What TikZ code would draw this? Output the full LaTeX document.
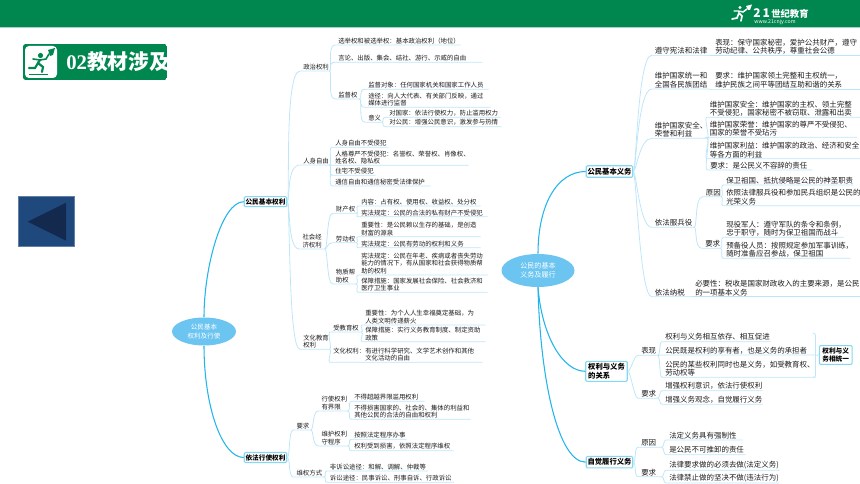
\documentclass[tikz,border=0pt]{standalone}
\usepackage{fontspec}
\setmainfont{Noto Sans CJK SC}
\newfontfamily\latinbold[BoldFont=Liberation Serif Bold]{Liberation Serif}
\usetikzlibrary{shapes.geometric}
\definecolor{bandgreen}{HTML}{00864F}
\definecolor{trunkblue}{HTML}{22B5EA}
\definecolor{ellipseblue}{HTML}{6CC5F1}
\definecolor{boxblue}{HTML}{86D8F2}
\definecolor{twigblue}{HTML}{BFE6F8}
\definecolor{textgrey}{HTML}{1C1C1C}
\definecolor{squareblue}{HTML}{1F497D}
\definecolor{darkblue}{HTML}{132A4E}
\def\twig[#1](#2)(#3:#4){\draw[#1] (#2) .. controls +(3,0) and +(-#4,0) .. (#3.south west) -- (#3.south east);}
\tikzset{
	leaf/.style={anchor=south west, inner xsep=2.25pt, inner ysep=0.6pt, align=left, text=textgrey, font=\fontsize{4.8}{5.6}\selectfont},
	rleaf/.style={leaf, font=\fontsize{5.6}{6.3}\selectfont},
	wide/.style={text width=#1*0.75pt-4.5pt},
	twig/.style={draw=twigblue, line width=0.6pt},
	trunk/.style={draw=trunkblue, line width=0.8pt},
	topic/.style={draw=boxblue, fill=white, line width=0.8pt, rounded corners=0.8pt, inner sep=0pt, align=left, font=\bfseries\fontsize{5}{6.2}\selectfont},
	rtopic/.style={topic, font=\bfseries\fontsize{5.5}{7}\selectfont},
	centre/.style={ellipse, fill=ellipseblue, text=white, inner sep=0pt, align=center, font=\fontsize{4.9}{6.4}\selectfont}
}
\begin{document}
\begin{tikzpicture}[x=0.75pt, y=-0.75pt]
	\useasboundingbox (0, 0) rectangle (860, 484);
	%%%%% HEADER %%%%%
	\fill[bandgreen] (0, 0) rectangle (860, 27);
	\fill[bandgreen!35] (0, 27) rectangle (860, 28.5);
	\draw[white, line width=1.3pt, line cap=round] (732, 19) -- (737, 18) -- (739, 13) -- (742, 16) -- (741, 21);
	\draw[white, line width=1.1pt, line cap=round] (734, 11) -- (738, 11) -- (743, 12) -- (747, 9);
	\fill[white] (740, 7.5) circle (1.6);
	\fill[white] (746, 6) -- (752, 4.5) -- (750, 10) -- (748, 10) -- cycle;
	\node[white, inner sep=0pt, anchor=west, font=\bfseries\itshape\fontsize{9}{9}\selectfont] (logoNum) at (753, 13.5) {2\,1};
	\node[white, inner sep=0pt, anchor=west, font=\bfseries\fontsize{7}{8}\selectfont] (logoName) at (771, 13.5) {世纪教育};
	\node[white, inner sep=0pt, font=\fontsize{3.9}{4}\selectfont] (logoWeb) at (775, 21.8) {www.21cnjy.com};
	%%%%% BADGE %%%%%
	\begin{scope}
		\clip[rounded corners=2] (23, 44) rectangle (167, 80);
		\fill[bandgreen] (23, 44) rectangle (167, 80);
		\fill[white, rounded corners=3] (25, 46) rectangle (57, 78);
		\fill[bandgreen] (40.5, 55.5) circle (2.6);
		\draw[bandgreen, line width=1.6pt, line cap=round] (29, 68) -- (35, 68) -- (38, 63) -- (43, 67) -- (42, 72);
		\draw[bandgreen, line width=1.6pt, line cap=round] (38, 63) -- (40, 60);
		\draw[bandgreen, line width=1.2pt, line cap=round] (33, 59) -- (40, 60) -- (46, 59) -- (49, 54);
		\fill[bandgreen] (48, 50) -- (55, 48) -- (53, 55) -- (50, 56) -- cycle;
		\draw[bandgreen, line width=0.6pt] (29, 74) -- (48, 74);
		\node[white, inner sep=0pt, anchor=west, font=\bfseries\fontsize{15.6}{16}\selectfont] (badgeText) at (66, 62) {{\latinbold\bfseries 02}教材涉及};
	\end{scope}
	%%%%% BACK BUTTON %%%%%
	\draw[fill=squareblue, draw=squareblue!70] (18.5, 196.5) rectangle (74.5, 246.5);
	\fill[darkblue] (66, 202.7) -- (27.7, 221.7) -- (66, 240.7) -- cycle;
	%%%%% CENTRES AND TOPICS %%%%%
	\node[centre, minimum width=64*0.75pt, minimum height=28*0.75pt] (rightsMap) at (204, 331.5) {公民基本\\权利及行使};
	\node[centre, minimum width=73*0.75pt, minimum height=33*0.75pt, font=\fontsize{5.3}{7}\selectfont] (dutyMap) at (538, 270.5) {公民的基本\\义务及履行};
	\node[topic, minimum width=42.5*0.75pt, minimum height=10*0.75pt] (basicRights) at (265.5, 201.7) {公民基本权利};
	\node[topic, minimum width=42.5*0.75pt, minimum height=10*0.75pt] (useRights) at (265.5, 457.5) {依法行使权利};
	\node[rtopic, minimum width=46.5*0.75pt, minimum height=11.5*0.75pt] (basicDuty) at (609.5, 171.5) {公民基本义务};
	\node[rtopic, minimum width=41.5*0.75pt, minimum height=20*0.75pt] (relation) at (606.5, 371.3) {权利与义务\\的关系};
	\node[rtopic, minimum width=46.5*0.75pt, minimum height=11.5*0.75pt] (selfDuty) at (609.5, 462.2) {自觉履行义务};
	\node[rtopic, minimum width=32.7*0.75pt, minimum height=18.6*0.75pt, font=\bfseries\fontsize{5}{6.6}\selectfont] (unityBox) at (835.7, 355) {权利与义\\务相统一};
	\draw[trunk] (rightsMap.north) .. controls +(0, -50) and +(-22, 0) .. (basicRights.west);
	\draw[trunk] (rightsMap.south) .. controls +(0, 60) and +(-22, 0) .. (useRights.west);
	\draw[trunk] (dutyMap.north) .. controls +(0, -50) and +(-28, 0) .. (basicDuty.west);
	\draw[trunk] (dutyMap.south) .. controls +(4, 50) and +(-22, 0) .. (relation.west);
	\draw[trunk] (dutyMap.south) .. controls +(2, 90) and +(-28, 0) .. (selfDuty.west);
	%%%%% BASIC RIGHTS %%%%%
	\node[leaf, wide=29] (politics) at (300, 71) {政治权利};
	\node[leaf, wide=125] (vote) at (335, 45) {选举权和被选举权：基本政治权利（地位）};
	\node[leaf, wide=147] (speech) at (335, 62.3) {言论、出版、集会、结社、游行、示威的自由};
	\node[leaf, wide=24] (watch) at (335, 99) {监督权};
	\node[leaf, wide=123] (watchWho) at (365, 89.3) {监督对象：任何国家机关和国家工作人员};
	\node[leaf, wide=125] (watchWay) at (365, 107.3) {途径：向人大代表、有关部门反映，通过\\媒体进行监督};
	\node[leaf, wide=16] (watchSense) at (365, 122.3) {意义};
	\node[leaf, wide=114] (toState) at (386, 117.3) {对国家：依法行使权力，防止滥用权力};
	\node[leaf, wide=115] (toCitizen) at (386, 126.7) {对公民：增强公民意识，激发参与热情};
	\twig[twig](basicRights.east)(politics:16)
	\twig[twig](politics.south east)(vote:8)
	\twig[twig](politics.south east)(speech:8)
	\twig[twig](politics.south east)(watch:8)
	\twig[twig](watch.south east)(watchWho:7)
	\twig[twig](watch.south east)(watchWay:7)
	\twig[twig](watch.south east)(watchSense:7)
	\twig[twig](watchSense.south east)(toState:5)
	\twig[twig](watchSense.south east)(toCitizen:5)
	
	\node[leaf, wide=29] (person) at (300, 165) {人身自由};
	\node[leaf, wide=56] (personA) at (332, 147.3) {人身自由不受侵犯};
	\node[leaf, wide=136] (personB) at (332, 165.3) {人格尊严不受侵犯：名誉权、荣誉权、肖像权、\\姓名权、隐私权};
	\node[leaf, wide=43] (personC) at (332, 175.3) {住宅不受侵犯};
	\node[leaf, wide=98] (personD) at (332, 186) {通信自由和通信秘密受法律保护};
	\twig[twig](basicRights.east)(person:14)
	\twig[twig](person.south east)(personA:4)
	\twig[twig](person.south east)(personB:4)
	\twig[twig](person.south east)(personC:4)
	\twig[twig](person.south east)(personD:4)
	
	\node[leaf, wide=25] (social) at (299.3, 249) {社会经\\济权利};
	\node[leaf, wide=23] (property) at (332.7, 213.3) {财产权};
	\node[leaf, wide=122] (propA) at (358, 206) {内容：占有权、使用权、收益权、处分权};
	\node[leaf, wide=129] (propB) at (358, 216.7) {宪法规定：公民的合法的私有财产不受侵犯};
	\node[leaf, wide=23] (labour) at (332.7, 242.7) {劳动权};
	\node[leaf, wide=122] (labourA) at (358, 236.7) {重要性：是公民赖以生存的基础，是创造\\财富的源泉};
	\node[leaf, wide=122] (labourB) at (358, 247.7) {宪法规定：公民有劳动的权利和义务};
	\node[leaf, wide=23] (relief) at (332.7, 284) {物质帮\\助权};
	\node[leaf, wide=129] (reliefA) at (358, 275) {宪法规定：公民在年老、疾病或者丧失劳动\\能力的情况下，有从国家和社会获得物质帮\\助的权利};
	\node[leaf, wide=129] (reliefB) at (358, 292.3) {保障措施：国家发展社会保险、社会救济和\\医疗卫生事业};
	\twig[twig](basicRights.east)(social:12)
	\twig[twig](social.south east)(property:6)
	\twig[twig](social.south east)(labour:6)
	\twig[twig](social.south east)(relief:6)
	\twig[twig](property.south east)(propA:3)
	\twig[twig](property.south east)(propB:3)
	\twig[twig](labour.south east)(labourA:3)
	\twig[twig](labour.south east)(labourB:3)
	\twig[twig](relief.south east)(reliefA:3)
	\twig[twig](relief.south east)(reliefB:3)
	
	\node[leaf, wide=29] (culture) at (300, 349.3) {文化教育\\权利};
	\node[leaf, wide=31] (school) at (330, 332) {受教育权};
	\node[leaf, wide=123] (schoolA) at (362, 325) {重要性：为个人人生幸福奠定基础，为\\人类文明传递薪火};
	\node[leaf, wide=123] (schoolB) at (362, 341.7) {保障措施：实行义务教育制度、制定资助\\政策};
	\node[leaf, wide=152] (cultureR) at (330, 362.3) {文化权利：有进行科学研究、文学艺术创作和其他\\\hspace*{24pt}文化活动的自由};
	\twig[twig](basicRights.east)(culture:12)
	\twig[twig](culture.south east)(school:3)
	\twig[twig](culture.south east)(cultureR:3)
	\twig[twig](school.south east)(schoolA:3)
	\twig[twig](school.south east)(schoolB:3)
	%%%%% USE OF RIGHTS %%%%%
	\node[leaf, wide=17] (demand) at (293.3, 430) {要求};
	\node[leaf, wide=30] (protect) at (293.3, 477) {维权方式};
	\node[leaf, wide=29] (limit) at (318.3, 411) {行使权利\\有界限};
	\node[leaf, wide=73] (limitA) at (351, 401.3) {不得超越界限滥用权利};
	\node[leaf, wide=119] (limitB) at (351, 419.3) {不得损害国家的、社会的、集体的利益和\\其他公民的合法的自由和权利};
	\node[leaf, wide=29] (procedure) at (318.3, 446) {维护权利\\守程序};
	\node[leaf, wide=55] (procA) at (351, 439.3) {按照法定程序办事};
	\node[leaf, wide=102] (procB) at (351, 450.7) {权利受到损害，依照法定程序维权};
	\node[leaf, wide=101] (nonSuit) at (326.7, 471) {非诉讼途径：和解、调解、仲裁等};
	\node[leaf, wide=127] (suit) at (326.7, 482.3) {诉讼途径：民事诉讼、刑事自诉、行政诉讼};
	\twig[twig](useRights.east)(demand:5)
	\twig[twig](useRights.east)(protect:5)
	\twig[twig](demand.south east)(limit:6)
	\twig[twig](demand.south east)(procedure:6)
	\twig[twig](limit.south east)(limitA:3)
	\twig[twig](limit.south east)(limitB:3)
	\twig[twig](procedure.south east)(procA:3)
	\twig[twig](procedure.south east)(procB:3)
	\twig[twig](protect.south east)(nonSuit:3)
	\twig[twig](protect.south east)(suit:3)
	%%%%% BASIC DUTIES %%%%%
	\node[rleaf, wide=58] (obey) at (651.7, 55.3) {遵守宪法和法律};
	\node[rleaf, wide=148] (obeyA) at (712, 55.3) {表现：保守国家秘密，爱护公共财产，遵守\\劳动纪律、公共秩序，尊重社会公德};
	\node[rleaf, wide=58] (unite) at (651.7, 89) {维护国家统一和\\全国各民族团结};
	\node[rleaf, wide=148] (uniteA) at (712, 89) {要求：维护国家领土完整和主权统一，\\维护民族之间平等团结互助和谐的关系};
	\node[rleaf, wide=55] (safety) at (651.7, 138.3) {维护国家安全、\\荣誉和利益};
	\node[rleaf, wide=153] (safetyA) at (706.7, 117.3) {维护国家安全：维护国家的主权、领土完整\\不受侵犯，国家秘密不被窃取、泄露和出卖};
	\node[rleaf, wide=150] (safetyB) at (706.7, 137.3) {维护国家荣誉：维护国家的尊严不受侵犯、\\国家的荣誉不受玷污};
	\node[rleaf, wide=153] (safetyC) at (706.7, 158.7) {维护国家利益：维护国家的政治、经济和安全\\等各方面的利益};
	\node[rleaf, wide=105] (safetyD) at (707, 170) {要求：是公民义不容辞的责任};
	\node[rleaf, wide=42] (army) at (651.7, 227.3) {依法服兵役};
	\node[rleaf, wide=18] (armyWhy) at (702.7, 196.7) {原因};
	\node[rleaf, wide=130] (armyA) at (723, 185) {保卫祖国、抵抗侵略是公民的神圣职责};
	\node[rleaf, wide=137] (armyB) at (723, 205.7) {依照法律服兵役和参加民兵组织是公民的\\光荣义务};
	\node[rleaf, wide=18] (armyNeed) at (702, 248.3) {要求};
	\node[rleaf, wide=120] (armyC) at (723, 237.3) {现役军人：遵守军队的条令和条例，\\忠于职守，随时为保卫祖国而战斗};
	\node[rleaf, wide=127] (armyD) at (723, 258.3) {预备役人员：按照规定参加军事训练，\\随时准备应召参战，保卫祖国};
	\node[rleaf, wide=40] (tax) at (651.7, 296.7) {依法纳税};
	\node[rleaf, wide=168] (taxA) at (692, 296.7) {必要性：税收是国家财政收入的主要来源，是公民\\的一项基本义务};
	\twig[twig](basicDuty.east)(obey:14)
	\twig[twig](obey.south east)(obeyA:1)
	\twig[twig](basicDuty.east)(unite:14)
	\twig[twig](unite.south east)(uniteA:1)
	\twig[twig](basicDuty.east)(safety:12)
	\twig[twig](safety.south east)(safetyA:3)
	\twig[twig](safety.south east)(safetyB:3)
	\twig[twig](safety.south east)(safetyC:3)
	\twig[twig](safety.south east)(safetyD:3)
	\twig[twig](basicDuty.east)(army:12)
	\twig[twig](army.south east)(armyWhy:8)
	\twig[twig](army.south east)(armyNeed:8)
	\twig[twig](armyWhy.south east)(armyA:3)
	\twig[twig](armyWhy.south east)(armyB:3)
	\twig[twig](armyNeed.south east)(armyC:3)
	\twig[twig](armyNeed.south east)(armyD:3)
	\twig[twig](basicDuty.east)(tax:12)
	\twig[twig](tax.south east)(taxA:1)
	%%%%% RIGHTS AND DUTIES %%%%%
	\node[rleaf, wide=19] (show) at (638, 355.3) {表现};
	\node[rleaf, wide=108] (showA) at (662, 341.7) {权利与义务相互依存、相互促进};
	\node[rleaf, wide=153] (showB) at (662, 355) {公民既是权利的享有者，也是义务的承担者};
	\node[rleaf, wide=153] (showC) at (662, 377.3) {公民的某些权利同时也是义务，如受教育权、\\劳动权等};
	\node[rleaf, wide=19] (need) at (638, 398.3) {要求};
	\node[rleaf, wide=100] (needA) at (662, 390.7) {增强权利意识，依法行使权利};
	\node[rleaf, wide=100] (needB) at (662, 404.3) {增强义务观念，自觉履行义务};
	\twig[twig](relation.east)(show:4)
	\twig[twig](relation.east)(need:4)
	\twig[twig](show.south east)(showA:3)
	\twig[twig](show.south east)(showB:3)
	\twig[twig](show.south east)(showC:3)
	\twig[twig](need.south east)(needA:3)
	\twig[twig](need.south east)(needB:3)
	\draw[twig, rounded corners=1.5pt] (showC.south east) ++(-3, -44) -- ++(3, 0) -- (showC.south east) -- ++(-3, 0);
	\draw[twig] (showC.south east) ++(0, -22) -- (unityBox.west);
	%%%%% DOING DUTIES %%%%%
	\node[rleaf, wide=23] (reason) at (638, 447.3) {原因};
	\node[rleaf, wide=76] (reasonA) at (666, 440) {法定义务具有强制性};
	\node[rleaf, wide=79] (reasonB) at (666, 454.7) {是公民不可推卸的责任};
	\node[rleaf, wide=23] (ask) at (638, 476.7) {要求};
	\node[rleaf, wide=113] (askA) at (666, 470.3) {法律要求做的必须去做(法定义务)};
	\node[rleaf, wide=113] (askB) at (666, 483) {法律禁止做的坚决不做(违法行为)};
	\twig[twig](selfDuty.east)(reason:4)
	\twig[twig](selfDuty.east)(ask:4)
	\twig[twig](reason.south east)(reasonA:3)
	\twig[twig](reason.south east)(reasonB:3)
	\twig[twig](ask.south east)(askA:3)
	\twig[twig](ask.south east)(askB:3)
\end{tikzpicture}
\end{document}
